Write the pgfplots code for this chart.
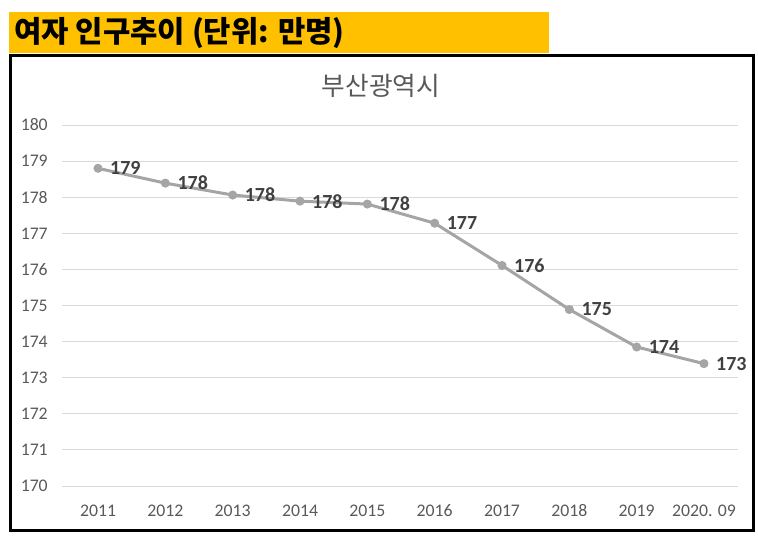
\documentclass[border=0pt]{standalone}
\usepackage{pgfplots}
\pgfplotsset{compat=1.18}
\usepackage{fontspec}
\setmainfont{Carlito}
\newfontfamily\kr{Noto Sans CJK KR}
\definecolor{banner}{HTML}{FFC000}
\definecolor{linegray}{HTML}{A5A5A5}
\definecolor{gridc}{HTML}{D9D9D9}
\definecolor{tickc}{HTML}{595959}
\definecolor{lblc}{HTML}{404040}
\pgfplotstableread{
x y
0 178.80
1 178.39
2 178.06
3 177.89
4 177.81
5 177.28
6 176.11
7 174.89
8 173.85
9 173.39
}\busan
\begin{document}
\begin{tikzpicture}
\begin{scope}[x=0.75pt,y=-0.75pt]
\useasboundingbox (0,0) rectangle (758,546);
\fill[banner] (9,12) rectangle (549,53);
\node[anchor=west, inner sep=0, font=\kr\bfseries\fontsize{22.3}{26}\selectfont] at (14,33) {여자 인구추이 (단위: 만명)};
\draw[line width=2.25pt] (10,55) rectangle (753,530);
\node[font=\kr\fontsize{19.3}{22}\selectfont, text=tickc] at (381,86) {부산광역시};
\end{scope}
\begin{axis}[
  at={(46.5pt,-364.5pt)}, anchor=south west,
  scale only axis, width=507pt, height=270.75pt,
  xmin=-0.535, xmax=9.505, ymin=170, ymax=180,
  ytick={170,171,...,180},
  xtick={0,...,9},
  xticklabels={2011,2012,2013,2014,2015,2016,2017,2018,2019,2020. 09},
  axis line style={draw=none},
  major tick length=0pt,
  ymajorgrids, grid style={gridc, line width=0.75pt},
  tick label style={font=\fontsize{13.3}{15}\selectfont, text=tickc},
  /pgf/number format/assume math mode=true,
  yticklabel style={inner sep=0pt, xshift=-10.5pt},
  xticklabel style={inner sep=0pt, text height=8.6pt, text depth=0pt, yshift=-14pt},
  clip=false,
]
\addplot[linegray, line width=2.25pt, mark=*, mark size=2.2pt,
  mark options={fill=linegray, draw=linegray},
  nodes near coords={\pgfmathprintnumber[fixed,precision=0]{\pgfplotspointmeta}},
  point meta=y,
  every node near coord/.append style={anchor=west, inner sep=0pt, xshift=8pt,
     font=\bfseries\fontsize{15}{17}\selectfont, text=lblc,
     /pgf/number format/assume math mode=true}
] table[x=x,y=y] {\busan};
\end{axis}
\end{tikzpicture}
\end{document}
